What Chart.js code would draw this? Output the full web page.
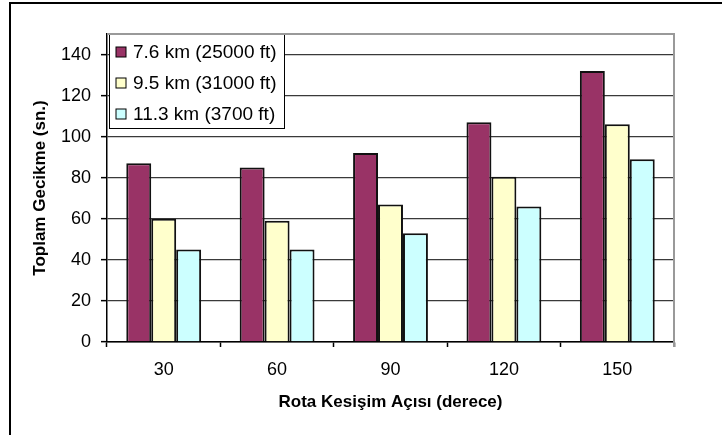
<!DOCTYPE html>
<html>
<head>
<meta charset="utf-8">
<script src="https://cdn.jsdelivr.net/npm/chart.js@4/dist/chart.umd.min.js"></script>
<style>
  html, body { margin: 0; padding: 0; background: #fff; }
  #wrap { width: 722px; height: 435px; position: relative; }
</style>
</head>
<body>
<div id="wrap"><canvas id="c" width="722" height="435"></canvas></div>
<script>
// Route-crossing angle categories (degrees)
const angles = ['30', '60', '90', '120', '150'];

// Total delay (seconds) per flight level
const series1Label = '7.6 km (25000 ft)';
const series1 = [87, 85, 92, 107, 132];
const series2Label = '9.5 km (31000 ft)';
const series2 = [60, 59, 67, 80.5, 106];
const series3Label = '11.3 km (3700 ft)';
const series3 = [45, 45, 53, 66, 89];

// Value axis ticks
const yTickValues = [0, 20, 40, 60, 80, 100, 120, 140];
const yMax = 150;

const xTitle = 'Rota Kesişim Açısı (derece)';
const yTitle = 'Toplam Gecikme (sn.)';

const FONT = "'Liberation Sans', Arial, Helvetica, sans-serif";

// Outer frame and plot-area border (top and right edges in grey)
const framePlugin = {
  id: 'frame',
  afterDraw(chart) {
    const { ctx, chartArea: a } = chart;
    ctx.save();
    ctx.strokeStyle = '#999';
    ctx.lineWidth = 2;
    ctx.beginPath();
    ctx.moveTo(a.left, a.top);
    ctx.lineTo(a.right, a.top);
    ctx.lineTo(a.right, a.bottom + 5);
    ctx.stroke();
    ctx.strokeStyle = '#000';
    ctx.lineWidth = 2;
    ctx.beginPath();
    ctx.moveTo(10, chart.height);
    ctx.lineTo(10, 3);
    ctx.lineTo(chart.width, 3);
    ctx.stroke();
    ctx.restore();
  }
};

// Boxed legend in the top-left corner of the plot area
const boxLegendPlugin = {
  id: 'boxLegend',
  afterDatasetsDraw(chart) {
    const { ctx, chartArea: a } = chart;
    const x0 = a.left + 2, y0 = a.top, w = 175, h = 94;
    ctx.save();
    ctx.fillStyle = '#fff';
    ctx.fillRect(x0, y0, w, h);
    ctx.strokeStyle = '#000';
    ctx.lineWidth = 1;
    ctx.strokeRect(x0 + 0.5, y0 + 0.5, w, h);
    ctx.font = '19px ' + FONT;
    ctx.textBaseline = 'middle';
    ctx.textAlign = 'left';
    chart.data.datasets.forEach((ds, i) => {
      const cy = y0 + 18 + i * 31;
      ctx.fillStyle = ds.backgroundColor;
      ctx.fillRect(x0 + 7, cy - 5, 10, 10);
      ctx.strokeStyle = '#000';
      ctx.lineWidth = 1;
      ctx.strokeRect(x0 + 7, cy - 5, 10, 10);
      ctx.fillStyle = '#000';
      ctx.fillText(ds.label, x0 + 24, cy + 1);
    });
    ctx.restore();
  }
};

new Chart(document.getElementById('c'), {
  type: 'bar',
  data: {
    labels: angles,
    datasets: [
      { label: series1Label, data: series1, backgroundColor: '#993366', borderColor: '#111', borderWidth: 2 },
      { label: series2Label, data: series2, backgroundColor: '#FFFFCC', borderColor: '#111', borderWidth: 2 },
      { label: series3Label, data: series3, backgroundColor: '#CCFFFF', borderColor: '#111', borderWidth: 2 }
    ]
  },
  options: {
    responsive: false,
    animation: false,
    events: [],
    layout: { padding: { left: 0, right: 48, top: 34, bottom: 0 } },
    datasets: { bar: { categoryPercentage: 0.66, barPercentage: 1.0 } },
    plugins: { legend: { display: false }, tooltip: { enabled: false } },
    scales: {
      x: {
        afterFit(scale) { scale.height = 93; },
        grid: { display: true, drawOnChartArea: false, drawTicks: true, tickLength: 5, tickColor: '#000', tickWidth: 1.5, offset: true },
        border: { display: true, color: '#000', width: 1.5 },
        ticks: { color: '#000', font: { family: FONT, size: 18 }, padding: 12, maxRotation: 0 },
        title: { display: true, text: xTitle, color: '#000', font: { family: FONT, size: 17, weight: 'bold' }, padding: { top: 0, bottom: 22 } }
      },
      y: {
        min: 0,
        max: yMax,
        afterFit(scale) { scale.width = 107; },
        afterBuildTicks(scale) { scale.ticks = yTickValues.map(v => ({ value: v })); },
        grid: { color: '#3a3a3a', lineWidth: 1.3, drawTicks: true, tickLength: 6, tickColor: '#000', tickWidth: 1.5 },
        border: { display: true, color: '#000', width: 1.5 },
        ticks: { color: '#000', font: { family: FONT, size: 18 }, padding: 10 },
        title: { display: true, text: yTitle, color: '#000', font: { family: FONT, size: 17, weight: 'bold' }, padding: { top: 30, bottom: 0 } }
      }
    }
  },
  plugins: [framePlugin, boxLegendPlugin]
});
</script>
</body>
</html>
